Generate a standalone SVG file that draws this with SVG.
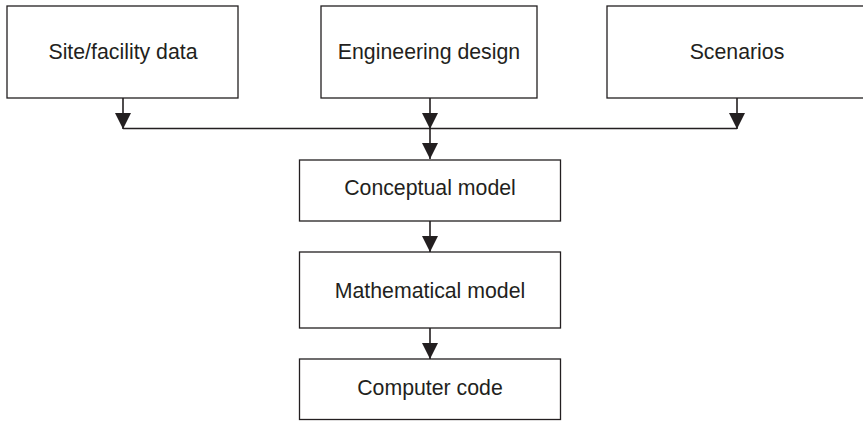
<svg xmlns="http://www.w3.org/2000/svg" width="863" height="421" viewBox="0 0 863 421">
<style>
.box{fill:#fff;stroke:#231f20;stroke-width:1.3}
.lbl{font-family:"Liberation Sans",Arial,sans-serif;font-size:21.3px;fill:#231f20;text-anchor:middle}
.ln{stroke:#231f20;stroke-width:1.6;fill:none}
</style>
<defs>
<marker id="ah" viewBox="0 0 16 16" refX="16" refY="8" markerWidth="16" markerHeight="16" markerUnits="userSpaceOnUse" orient="auto">
<path d="M0,0 L16,8 L0,16 Z" fill="#231f20"/>
</marker>
</defs>
<rect width="863" height="421" fill="#fff"/>
<g id="site"><rect class="box" x="7" y="6" width="231" height="92"/><text class="lbl" x="123" y="59">Site/facility data</text></g>
<g id="eng"><rect class="box" x="321" y="6" width="216" height="92"/><text class="lbl" x="429" y="59">Engineering design</text></g>
<g id="scen"><rect class="box" x="607" y="6" width="270" height="92"/><text class="lbl" x="737" y="59">Scenarios</text></g>
<g id="concept"><rect class="box" x="299.5" y="160" width="261" height="61"/><text class="lbl" x="430" y="195">Conceptual model</text></g>
<g id="math"><rect class="box" x="299.5" y="252" width="261" height="76"/><text class="lbl" x="430" y="298">Mathematical model</text></g>
<g id="code"><rect class="box" x="299.5" y="359" width="261" height="60.5"/><text class="lbl" x="430" y="395">Computer code</text></g>
<g id="connectors">
<line class="ln" x1="123" y1="128.5" x2="737" y2="128.5"/>
<line class="ln" x1="123" y1="98" x2="123" y2="129" marker-end="url(#ah)"/>
<line class="ln" x1="430" y1="98" x2="430" y2="129" marker-end="url(#ah)"/>
<line class="ln" x1="737" y1="98" x2="737" y2="129" marker-end="url(#ah)"/>
<line class="ln" x1="430" y1="128" x2="430" y2="159" marker-end="url(#ah)"/>
<line class="ln" x1="430" y1="221" x2="430" y2="252" marker-end="url(#ah)"/>
<line class="ln" x1="430" y1="328" x2="430" y2="359" marker-end="url(#ah)"/>
</g>
</svg>
